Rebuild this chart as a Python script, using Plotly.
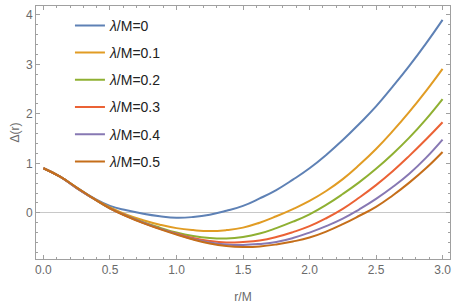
import plotly.graph_objects as go

r_vals = [0.0, 0.125, 0.25, 0.375, 0.5, 0.625, 0.75, 0.875, 1.0, 1.125, 1.25, 1.375, 1.5,
          1.625, 1.75, 1.875, 2.0, 2.125, 2.25, 2.375, 2.5, 2.625, 2.75, 2.875, 3.0]

delta_l00 = [0.9, 0.73, 0.51, 0.30, 0.14, 0.05, -0.02, -0.07, -0.10, -0.085, -0.04, 0.04, 0.14,
             0.29, 0.46, 0.67, 0.90, 1.17, 1.47, 1.80, 2.15, 2.55, 2.97, 3.42, 3.90]
delta_l01 = [0.9, 0.73, 0.51, 0.29, 0.11, -0.04, -0.15, -0.24, -0.31, -0.35, -0.37, -0.35, -0.30,
             -0.20, -0.07, 0.075, 0.24, 0.44, 0.68, 0.97, 1.29, 1.65, 2.04, 2.46, 2.91]
delta_l02 = [0.9, 0.73, 0.50, 0.29, 0.09, -0.06, -0.19, -0.30, -0.40, -0.47, -0.51, -0.52, -0.49,
             -0.42, -0.31, -0.18, -0.03, 0.16, 0.38, 0.62, 0.89, 1.19, 1.52, 1.89, 2.30]
delta_l03 = [0.9, 0.73, 0.50, 0.29, 0.09, -0.065, -0.20, -0.32, -0.42, -0.51, -0.57, -0.60, -0.59,
             -0.56, -0.49, -0.39, -0.27, -0.11, 0.08, 0.31, 0.56, 0.84, 1.15, 1.48, 1.83]
delta_l04 = [0.9, 0.73, 0.50, 0.29, 0.09, -0.065, -0.20, -0.32, -0.43, -0.53, -0.60, -0.64, -0.65,
             -0.63, -0.59, -0.51, -0.40, -0.27, -0.12, 0.07, 0.28, 0.52, 0.79, 1.11, 1.48]
delta_l05 = [0.9, 0.73, 0.51, 0.29, 0.09, -0.07, -0.21, -0.33, -0.44, -0.54, -0.62, -0.67, -0.69,
             -0.68, -0.64, -0.58, -0.50, -0.38, -0.23, -0.06, 0.12, 0.35, 0.61, 0.90, 1.23]

series = [delta_l00, delta_l01, delta_l02, delta_l03, delta_l04, delta_l05]
labels = ["0", "0.1", "0.2", "0.3", "0.4", "0.5"]
colors = ["#5E81B5", "#E19C24", "#8FB032", "#EB6235", "#8778B3", "#C56E1A"]

fig = go.Figure()
for i, (ys, lab, c) in enumerate(zip(series, labels, colors)):
    fig.add_trace(go.Scatter(
        x=r_vals, y=ys, mode="lines",
        line=dict(color=c, width=2, shape="spline", smoothing=1.3),
        name="<i>λ</i>/M=" + lab, legendgroup=str(i),
    ))

frame = "#a0a0a0"
tickfont = dict(family="Liberation Sans, Arial, sans-serif", size=12, color="#6a6a6a")

fig.update_layout(
    width=457, height=307,
    margin=dict(l=36, r=7, t=5, b=46),
    paper_bgcolor="white", plot_bgcolor="white",
    font=dict(family="Liberation Sans, Arial, sans-serif", size=12, color="#6a6a6a"),
    legend=dict(
        x=0.082, y=0.985, xanchor="left", yanchor="top",
        bgcolor="rgba(0,0,0,0)",
        font=dict(family="Liberation Sans, Arial, sans-serif", size=14, color="#222222"),
        tracegroupgap=6,
    ),
    showlegend=True,
)

fig.update_xaxes(
    range=[-0.056, 3.056],
    tickvals=[0, 0.5, 1.0, 1.5, 2.0, 2.5, 3.0],
    ticktext=["0.0", "0.5", "1.0", "1.5", "2.0", "2.5", "3.0"],
    ticks="inside", ticklen=4, tickcolor=frame, tickwidth=1,
    minor=dict(tickvals=[round(0.1 * k, 1) for k in range(31)], ticks="inside", ticklen=2, tickcolor=frame),
    showline=True, linecolor=frame, linewidth=1, mirror="ticks",
    showgrid=False, zeroline=False,
    tickfont=tickfont,
    title=dict(text="r/M", font=tickfont, standoff=16),
)
fig.update_yaxes(
    range=[-0.934, 4.18],
    tickvals=[0, 1, 2, 3, 4],
    ticks="inside", ticklen=4, tickcolor=frame, tickwidth=1,
    minor=dict(tickvals=[round(-0.8 + 0.2 * k, 1) for k in range(26)], ticks="inside", ticklen=2, tickcolor=frame),
    showline=True, linecolor=frame, linewidth=1, mirror="ticks",
    showgrid=False, zeroline=True, zerolinecolor="#c8c8c8", zerolinewidth=1,
    tickfont=tickfont,
    title=dict(text="Δ(r)", font=tickfont, standoff=3),
)

fig.write_html("out.html", config={"displayModeBar": False},
               post_script="document.body.style.margin='0';document.body.style.padding='0';")
